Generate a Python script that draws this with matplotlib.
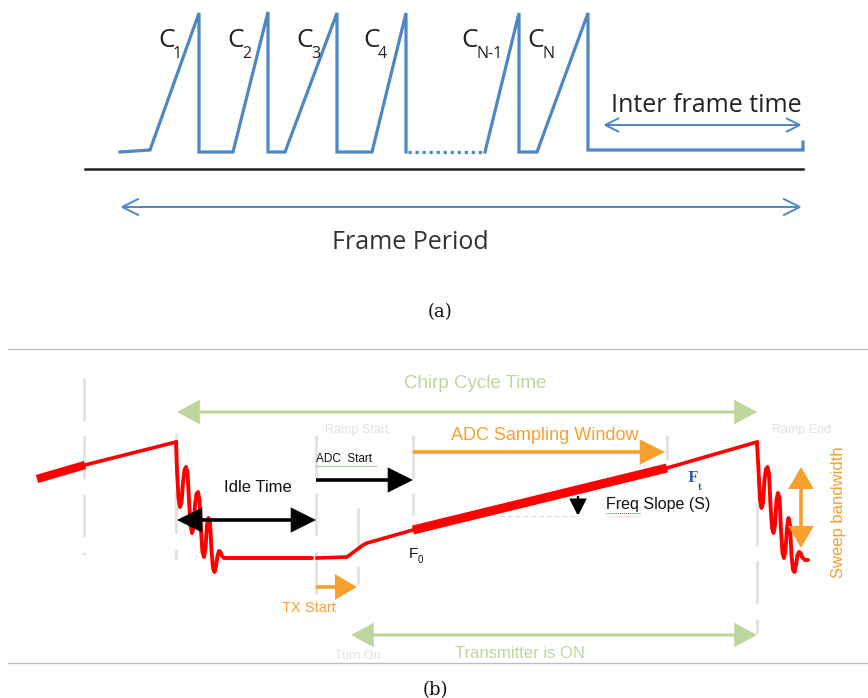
import matplotlib
matplotlib.use("Agg")
import matplotlib.pyplot as plt
from matplotlib.patches import FancyArrowPatch

# ---------------- data (pixel-space diagram coordinates) ----------------
# Panel (a): chirp train
wave1_x = [120, 150, 199, 199, 233, 268, 268, 285, 337, 337, 372, 406, 406]
wave1_y = [152, 150, 13, 152, 152, 12, 152, 152, 13, 152, 152, 13, 152]
dots_x = [408, 485]
dots_y = [152, 152]
wave2_x = [485, 519, 519, 537, 588, 588, 803, 803]
wave2_y = [152, 13, 152, 152, 13, 150, 150, 142]
chirp_labels = ["1", "2", "3", "4", "N-1", "N"]
chirp_label_x = [158, 227, 296, 363, 461, 527]

# Panel (b): single chirp (red)
lead_x = [37, 85]
lead_y = [479, 465]
ramp0_x = [85, 176]
ramp0_y = [465, 442]
ring1_x = [176, 177, 178.5, 180, 181.5, 183, 184.5, 186, 187.5, 189, 190.5,
           192, 193.5, 195, 196.5, 198, 199.5, 201, 202.5, 204, 205.5, 207,
           208.5, 210, 211.5, 213, 214.5, 216, 217.5, 219, 220.5, 222, 224,
           227, 312]
ring1_y = [442, 470, 498, 507, 503, 483, 470, 467, 472, 500, 525,
           533, 528, 505, 494, 492, 500, 530, 552, 557, 548, 525,
           518, 523, 550, 568, 572, 566, 556, 551, 552, 556, 558,
           558, 558]
pre_x = [317, 347, 363, 367, 413]
pre_y = [558, 557, 545, 543, 530]
thick_x = [413, 667]
thick_y = [530, 468]
tail_x = [667, 757]
tail_y = [468, 442]
ring2_x = [757, 758.5, 760, 761.5, 763, 764.5, 766, 767.5, 769, 770.5, 772,
           773.5, 775, 776.5, 778, 779.5, 781, 782.5, 784, 785.5, 787, 788.5,
           790, 791.5, 793, 794.5, 796, 797.5, 799, 800.5, 802, 805, 808]
ring2_y = [443, 470, 500, 508, 503, 480, 469, 467, 474, 505, 528,
           533, 525, 500, 493, 498, 530, 553, 558, 550, 528, 518,
           525, 555, 570, 572, 565, 555, 552, 553, 557, 560, 560]

# vertical dashed guides: (x, y_start, y_end)
guide_x = [84, 176, 316, 358, 413, 667, 757]
guide_y0 = [378, 433, 435, 508, 435, 435, 503]
guide_y1 = [555, 560, 598, 585, 515, 460, 633]

BLUE = "#4f86c6"
RED = "#ff0000"
GREEN = "#bcd69c"
ORANGE = "#f7a02e"
FAINT = "#e4e4dc"

fig = plt.figure(figsize=(8.68, 6.98), dpi=100)
ax = fig.add_axes([0, 0, 1, 1])
ax.set_xlim(0, 868)
ax.set_ylim(698, 0)
ax.axis("off")

SANS_A = ["Open Sans", "DejaVu Sans"]
SANS_B = ["Liberation Sans", "DejaVu Sans"]
SERIF = ["DejaVu Serif"]


def arrow(x0, y0, x1, y1, style, color, lw, z=3):
    p = FancyArrowPatch((x0, y0), (x1, y1), arrowstyle=style, color=color,
                        lw=lw, shrinkA=0, shrinkB=0, mutation_scale=1,
                        joinstyle="miter", capstyle="butt", zorder=z)
    ax.add_patch(p)


# ---------------- panel (a) ----------------
ax.plot(wave1_x, wave1_y, color=BLUE, lw=2.3, solid_joinstyle="miter")
ax.plot(dots_x, dots_y, color=BLUE, lw=2.3, ls=(0, (1, 1.2)))
ax.plot(wave2_x, wave2_y, color=BLUE, lw=2.3, solid_joinstyle="miter")
ax.plot([85, 803], [169, 169], color="#222222", lw=1.8)

for lab, x in zip(chirp_labels, chirp_label_x):
    ax.text(x, 47, "C", fontsize=19, family=SANS_A, color="#222222",
            ha="left", va="baseline")
    ax.text(x + 15, 58, lab, fontsize=11.5, family=SANS_A, color="#222222",
            ha="left", va="baseline")

arrow(603, 125, 802, 125, "<->,head_length=10,head_width=5", BLUE, 1.4)
ax.text(706, 112, "Inter frame time", fontsize=18, family=SANS_A,
        color="#222222", ha="center", va="baseline")
arrow(120, 207, 802, 207, "<->,head_length=12,head_width=6", BLUE, 1.4)
ax.text(410, 249, "Frame Period", fontsize=18, family=SANS_A,
        color="#333333", ha="center", va="baseline")
ax.text(440, 312, "(a)", fontsize=13, family=SERIF, color="#111111",
        ha="center", va="center")

# separators
ax.plot([8, 868], [349, 349], color="#bbbbbb", lw=0.9)
ax.plot([8, 868], [663, 663], color="#bbbbbb", lw=0.9)

# ---------------- panel (b) ----------------
for x, y0, y1 in zip(guide_x, guide_y0, guide_y1):
    ax.plot([x, x], [y0, y1], color=FAINT, lw=2.2, ls=(0, (14, 5)), zorder=1)

ax.plot(lead_x, lead_y, color=RED, lw=6, solid_capstyle="butt")
ax.plot(ramp0_x, ramp0_y, color=RED, lw=2.6)
ax.plot(ring1_x, ring1_y, color=RED, lw=2.8, solid_joinstyle="round",
        solid_capstyle="round")
ax.plot(pre_x, pre_y, color=RED, lw=2.6)
ax.plot(thick_x, thick_y, color=RED, lw=6.5, solid_capstyle="butt")
ax.plot(tail_x, tail_y, color=RED, lw=2.6)
ax.plot(ring2_x, ring2_y, color=RED, lw=2.8, solid_joinstyle="round",
        solid_capstyle="round")

# faint horizontal slope reference
ax.plot([500, 578], [516, 516], color="#d8d8d8", lw=0.8, ls=(0, (4, 3)))

# green arrows
ax.text(475, 383, "Chirp Cycle Time", fontsize=13.5, family=SANS_B,
        color=GREEN, ha="center", va="center")
arrow(177, 412, 757, 412, "<|-|>,head_length=13,head_width=7", GREEN, 2.2)
arrow(351, 635, 757, 635, "<|-|>,head_length=13,head_width=7", GREEN, 2.2)
ax.text(520, 653, "Transmitter is ON", fontsize=12, family=SANS_B,
        color=GREEN, ha="center", va="center")

# faint labels
ax.text(357, 430, "Ramp Start", fontsize=9, family=SANS_B, color="#e2e2e2",
        ha="center", va="center")
ax.text(801, 430, "Ramp End", fontsize=9, family=SANS_B, color="#e2e2e2",
        ha="center", va="center")
ax.text(358, 656, "Turn On", fontsize=9, family=SANS_B, color="#e2e2e2",
        ha="center", va="center")

# ADC start
ax.text(316, 459, "ADC  Start", fontsize=8.5, family=SANS_B, color="#111111",
        ha="left", va="center")
ax.plot([316, 376], [466, 466], color="#a8d0a0", lw=0.8)
arrow(316, 480, 413, 480, "-|>,head_length=14,head_width=7", "black", 2.6)

# idle time
ax.text(258, 488, "Idle Time", fontsize=12, family=SANS_B, color="#111111",
        ha="center", va="center")
arrow(177, 520, 316, 520, "<|-|>,head_length=14,head_width=7", "black", 2.6)

# ADC sampling window
ax.text(545, 435, "ADC Sampling Window", fontsize=13, family=SANS_B,
        color=ORANGE, ha="center", va="center")
arrow(413, 452, 665, 452, "-|>,head_length=14,head_width=7", ORANGE, 2.6)

# TX start
arrow(316, 587, 357, 587, "-|>,head_length=12,head_width=7", ORANGE, 2.6)
ax.text(309, 608, "TX Start", fontsize=10.5, family=SANS_B, color=ORANGE,
        ha="center", va="center")

# F0 / Ft
ax.text(409, 558, "F", fontsize=11, family=SANS_B, color="#111111",
        ha="left", va="baseline")
ax.text(418, 563, "0", fontsize=7, family=SANS_B, color="#111111",
        ha="left", va="baseline")
ax.text(687, 482, "F", fontsize=10, family=["DejaVu Serif"], weight="bold",
        color="#2f5fa5", ha="left", va="baseline")
ax.text(698, 490, "t", fontsize=6.5, family=["DejaVu Serif"], weight="bold",
        color="#2f5fa5", ha="left", va="baseline")

# freq slope
arrow(578, 496, 578, 516, "-|>,head_length=10,head_width=5", "black", 1.6)
ax.text(606, 504, "Freq Slope (S)", fontsize=11.5, family=SANS_B,
        color="#111111", ha="left", va="center")
ax.plot([606, 640], [513, 513], color="#e04040", lw=0.7, ls=(0, (1, 1)))

# sweep bandwidth
arrow(801, 467, 801, 548, "<|-|>,head_length=12,head_width=7", ORANGE, 2.6)
ax.text(838, 512, "Sweep bandwidth", fontsize=12, family=SANS_B,
        color=ORANGE, ha="center", va="center", rotation=90)

ax.text(435, 690, "(b)", fontsize=13, family=SERIF, color="#111111",
        ha="center", va="center")

fig.savefig("out.png", dpi=100)
